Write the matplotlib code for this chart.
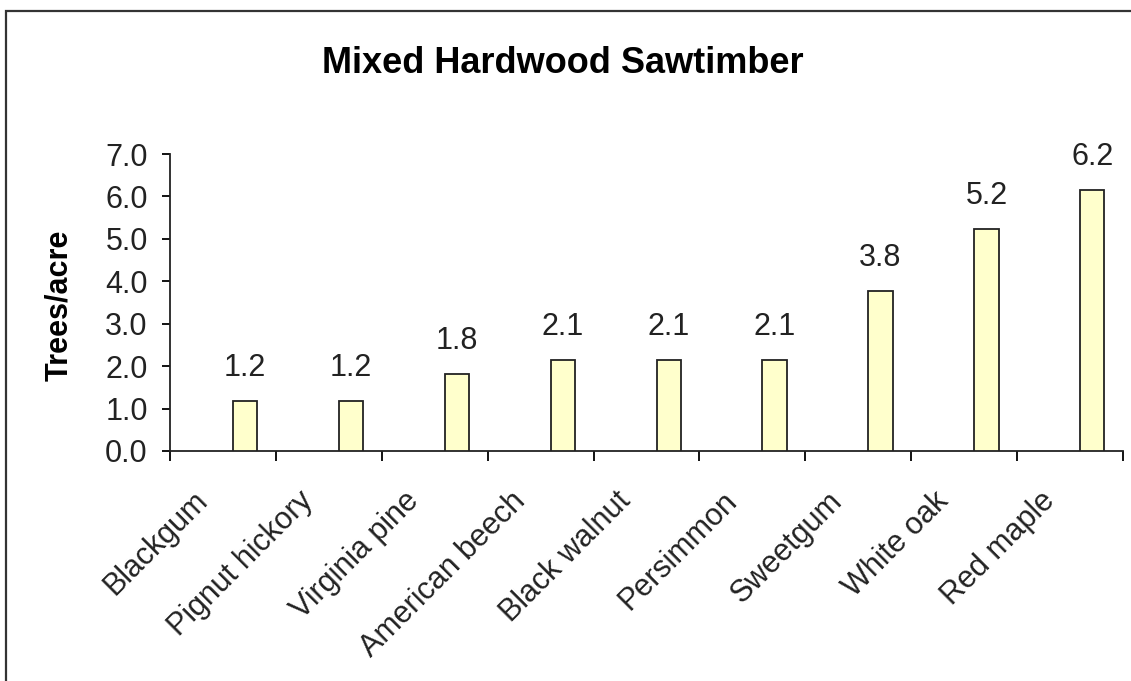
import matplotlib.pyplot as plt
from matplotlib.patches import Rectangle

species = ["Blackgum", "Pignut hickory", "Virginia pine", "American beech",
           "Black walnut", "Persimmon", "Sweetgum", "White oak", "Red maple"]
trees_per_acre = [1.17, 1.17, 1.82, 2.14, 2.14, 2.14, 3.78, 5.24, 6.16]
y_ticks = [0, 1, 2, 3, 4, 5, 6, 7]

plt.rcParams['font.family'] = ['Liberation Sans', 'DejaVu Sans']

fig = plt.figure(figsize=(11.31, 6.81), dpi=100)
ax = fig.add_axes([170 / 1131, 1 - 451 / 681, 953 / 1131, 297 / 681])

# frame around the whole chart (bottom/right run off the picture)
fig.patches.append(Rectangle((6 / 1131, -0.1), 1.1, 1 - 11 / 681 + 0.1,
                             transform=fig.transFigure, fill=False,
                             edgecolor='#333333', linewidth=1.6))

# bars sit right of centre in each category cell (as in the original)
bar_pos = [i + 0.71 for i in range(len(species))]
ax.bar(bar_pos, trees_per_acre, width=0.23, color='#FFFFCC',
       edgecolor='#222222', linewidth=1.3, zorder=3)

for x, v in zip(bar_pos, trees_per_acre):
    ax.annotate(f"{v:.1f}", (x, v), textcoords="offset points", xytext=(0, 13),
                ha='center', va='bottom', fontsize=22, color='#222222')

ax.set_xlim(0, len(species))
ax.set_ylim(0, 7)
ax.set_yticks(y_ticks)
ax.set_yticklabels([f"{t:.1f}" for t in y_ticks])

# tick marks between categories, rotated labels on minor ticks
ax.set_xticks(range(len(species) + 1))
ax.set_xticklabels([])
ax.set_xticks([i + 0.21 for i in range(len(species))], minor=True)
ax.set_xticklabels(species, minor=True, rotation=45, ha='right',
                   rotation_mode='anchor', fontsize=22, color='#222222')
ax.tick_params(axis='x', which='major', direction='out', length=7, width=1.3)
ax.tick_params(axis='x', which='minor', length=0, pad=25)
ax.tick_params(axis='y', direction='out', length=6, width=1.3, pad=10,
               labelsize=22, labelcolor='#222222')

for s in ['top', 'right']:
    ax.spines[s].set_visible(False)
for s in ['left', 'bottom']:
    ax.spines[s].set_linewidth(1.3)
    ax.spines[s].set_color('#222222')

ax.set_ylabel("Trees/acre", fontsize=22, fontweight='bold')
ax.yaxis.set_label_coords(-0.101, 0.49)

fig.text(563 / 1131, 1 - 73 / 681, "Mixed Hardwood Sawtimber", ha='center',
         va='baseline', fontsize=26, fontweight='bold')

fig.savefig("out.png", dpi=100)
